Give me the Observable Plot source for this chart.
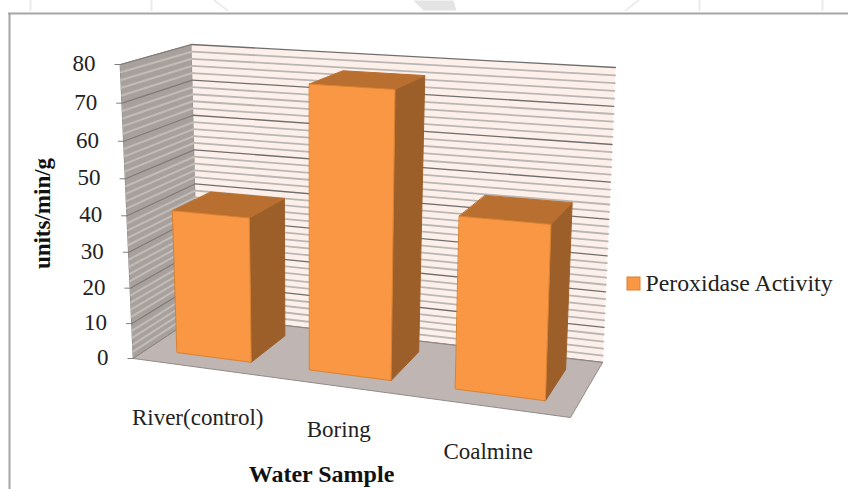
<!DOCTYPE html>
<html>
<head>
<meta charset="utf-8">
<style>html,body{margin:0;padding:0;background:#fff}svg{display:block}</style>
<script src="https://cdn.jsdelivr.net/npm/d3@7"></script>
<script src="https://cdn.jsdelivr.net/npm/@observablehq/plot@0.6"></script>
</head>
<body>
<script>
// Peroxidase activity per water sample
const categories = ["River(control)", "Boring", "Coalmine"];
const activity = [40.2, 76.5, 45.8];
const yTicks = [0, 10, 20, 30, 40, 50, 60, 70, 80];
const stripeValues = d3.range(2, 80, 2).filter(v => v % 10 !== 0);
const seriesName = "Peroxidase Activity";
const xTitle = "Water Sample";
const yTitle = "units/min/g";
const yMax = 80;

// Perspective box of the 3D chart: floor and ceiling quads (front-left, front-right, back-right, back-left)
const floorQuad = [[133, 358], [570, 417], [602, 362], [198, 315]];
const ceilQuad = [[120, 64], [580, 92], [615, 67], [191, 44]];

function homography([p0, p1, p2, p3]) {
  const dx1 = p1[0] - p2[0], dx2 = p3[0] - p2[0], sx = p0[0] - p1[0] + p2[0] - p3[0];
  const dy1 = p1[1] - p2[1], dy2 = p3[1] - p2[1], sy = p0[1] - p1[1] + p2[1] - p3[1];
  const den = dx1 * dy2 - dx2 * dy1;
  const g = (sx * dy2 - dx2 * sy) / den, h = (dx1 * sy - sx * dy1) / den;
  const a = p1[0] - p0[0] + g * p1[0], b = p3[0] - p0[0] + h * p3[0];
  const d = p1[1] - p0[1] + g * p1[1], e = p3[1] - p0[1] + h * p3[1];
  return (u, w) => {
    const q = g * u + h * w + 1;
    return [(a * u + b * w + p0[0]) / q, (d * u + e * w + p0[1]) / q];
  };
}
const onFloor = homography(floorQuad);
const onCeil = homography(ceilQuad);
const vertical = t => t / (t + (1 - t) * 1.06);   // foreshortening along the value axis

// u: 0..1 across categories, value: axis units, w: 0 front .. 1 back
function project(u, value, w) {
  const t = vertical(value / yMax);
  const a = onFloor(u, w), b = onCeil(u, w);
  return [a[0] + (b[0] - a[0]) * t, a[1] + (b[1] - a[1]) * t];
}
const corner = (id, u, value, w) => {
  const [x, y] = project(u, value, w);
  return {id, x, y};
};
const polygon = (id, pts) => pts.map(([u, v, w]) => corner(id, u, v, w));
const gridLine = (id, value, from, to) => [corner(id, from[0], value, from[1]), corner(id, to[0], value, to[1])];

// Walls and floor
const backWall = polygon("back", [[0, 0, 1], [1, 0, 1], [1, yMax, 1], [0, yMax, 1]]);
const sideWall = polygon("side", [[0, 0, 0], [0, 0, 1], [0, yMax, 1], [0, yMax, 0]]);
const floor = polygon("floor", [[0, 0, 0], [1, 0, 0], [1, 0, 1], [0, 0, 1]]);

const stripes = (values, prefix, from, to) => values.flatMap(v => gridLine(prefix + v, v, from, to));
const backEdge = [[0, 1], [1, 1]], sideEdge = [[0, 0], [0, 1]];

// Bars
const barHalf = 0.095, barShift = 0.006, wFront = 0.21, wBack = 0.79;
const bars = categories.map((name, i) => {
  const c = (i + 0.5) / categories.length + barShift, l = c - barHalf, r = c + barHalf, v = activity[i];
  return {
    front: polygon(name + "-f", [[l, 0, wFront], [r, 0, wFront], [r, v, wFront], [l, v, wFront]]),
    top: polygon(name + "-t", [[l, v, wFront], [r, v, wFront], [r, v, wBack], [l, v, wBack]]),
    side: polygon(name + "-s", [[r, 0, wFront], [r, 0, wBack], [r, v, wBack], [r, v, wFront]])
  };
});
const barFaces = key => bars.flatMap(b => b[key]);

const face = (pts, fill, stroke, strokeWidth = 1) =>
  Plot.line(pts, {x: "x", y: "y", z: "id", fill, stroke, strokeWidth, curve: "linear-closed"});
const rule = (pts, stroke, strokeWidth) =>
  Plot.line(pts, {x: "x", y: "y", z: "id", stroke, strokeWidth, curve: "linear"});

// Category labels sit below the front floor edge, a little flatter than the edge itself
const labelOffset = [[0, 50], [3, 44], [0, 45]];
const categoryAt = categories.map((name, i) => {
  const [x, y] = project((i + 0.5) / categories.length, 0, 0);
  return {name, x: x + labelOffset[i][0], y: y + labelOffset[i][1]};
});
const tickAt = yTicks.map(v => {
  const [x, y] = project(0, v, 0);
  return {v, x, y};
});

// Page watermark showing faintly above the chart frame
const watermarkLines = [
  {id: "a", x: 30, y: 0}, {id: "a", x: 30, y: 10},
  {id: "b", x: 151, y: 0}, {id: "b", x: 151, y: 10},
  {id: "c", x: 214, y: 0}, {id: "c", x: 227, y: 10},
  {id: "d", x: 638, y: 0}, {id: "d", x: 625, y: 10},
  {id: "e", x: 699, y: 0}, {id: "e", x: 699, y: 10},
  {id: "f", x: 822, y: 0}, {id: "f", x: 822, y: 10}
];
const watermarkBlob = [
  {id: "g", x: 413, y: 0}, {id: "g", x: 423, y: 10},
  {id: "g", x: 456, y: 10}, {id: "g", x: 453, y: 0}
];

const serif = "'Liberation Serif','Times New Roman',serif";

const chart = Plot.plot({
  width: 848,
  height: 489,
  margin: 0,
  x: {type: "identity", axis: null},
  y: {type: "identity", axis: null},
  style: {background: "#fff", fontFamily: serif},
  marks: [
    rule(watermarkLines, "#ececec", 2),
    face(watermarkBlob, "#e4e4e4", "none"),

    // Outer chart border
    Plot.ruleY([13], {x1: 8, x2: 848, stroke: "#a6a6a6", strokeWidth: 2}),
    Plot.ruleX([9], {y1: 13, y2: 489, stroke: "#a6a6a6", strokeWidth: 2}),

    face(sideWall, "#a8a09c", "#8f8b88"),
    rule(stripes(stripeValues, "ss", ...sideEdge), "#c2bcb8", 2),
    rule(stripes(yTicks, "sm", ...sideEdge), "#7f7b78", 1.2),

    face(backWall, "#fdf0ea", "none"),
    rule(stripes(stripeValues, "bs", ...backEdge), "#b9b6b4", 1.8),
    rule(stripes(yTicks, "bm", ...backEdge), "#6f6f6f", 1.3),

    face(floor, "#bfb5b2", "#8f8b88"),

    // Value axis ticks and labels
    Plot.link(tickAt, {x1: d => d.x - 6, x2: "x", y1: "y", y2: "y", stroke: "#808080"}),
    Plot.text(tickAt, {x: "x", y: "y", text: d => String(d.v), textAnchor: "end", dx: -25, dy: -1, fontSize: 23, fill: "#222"}),

    face(barFaces("side"), "#9c5f2a", "#9c5f2a"),
    face(barFaces("top"), "#b96f2f", "#b96f2f"),
    face(barFaces("front"), "#f99744", "#d9822f"),

    // Category and axis titles
    Plot.text(categoryAt, {x: "x", y: "y", text: "name", fontSize: 23, fill: "#222"}),
    Plot.text([xTitle], {x: () => 321, y: () => 474, fontSize: 24, fontWeight: "bold", fill: "#111"}),
    Plot.text([yTitle], {x: () => 42, y: () => 213, rotate: -90, fontSize: 23, fontWeight: "bold", fill: "#111"}),

    // Legend
    Plot.rect([seriesName], {x1: () => 627, x2: () => 640, y1: () => 277, y2: () => 290, fill: "#f99744", stroke: "#d9822f"}),
    Plot.text([seriesName], {x: () => 645, y: () => 283, textAnchor: "start", fontSize: 23.8, fill: "#222"})
  ]
});
document.body.appendChild(chart);
</script>
</body>
</html>
